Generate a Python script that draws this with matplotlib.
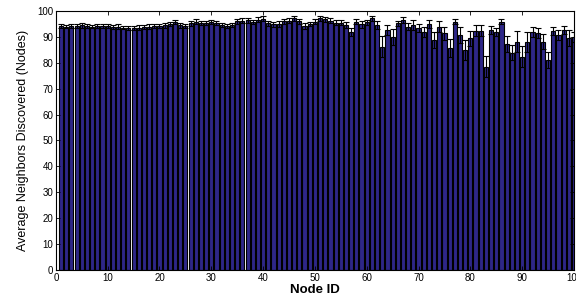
import numpy as np
import matplotlib
matplotlib.use('Agg')
import matplotlib.pyplot as plt

# average neighbours discovered per node
node_ids = np.arange(1, 101)
avg_neighbors = [
    94.2, 94.0, 94.3, 94.1, 94.4, 94.2, 94.0, 94.3, 94.1, 94.2,
    93.9, 94.0, 93.6, 93.5, 93.4, 93.6, 93.8, 94.0, 94.2, 94.3,
    94.4, 95.0, 95.6, 94.5, 94.3, 95.2, 95.8, 95.5, 95.3, 95.7,
    95.4, 94.5, 94.2, 94.6, 96.0, 96.2, 96.4, 95.8, 96.6, 97.0,
    95.2, 94.8, 95.0, 96.0, 96.3, 97.2, 96.0, 94.2, 95.0, 95.8,
    97.2, 96.8, 96.3, 95.5, 95.5, 94.6, 92.0, 95.8, 94.8, 95.6,
    97.2, 94.6, 86.2, 92.7, 90.0, 95.2, 96.5, 94.0, 94.6, 93.3,
    92.0, 95.0, 88.8, 94.0, 91.4, 85.6, 95.9, 90.7, 84.9, 89.4,
    92.4, 92.4, 78.5, 92.7, 92.0, 95.9, 87.3, 83.9, 88.2, 82.4,
    88.0, 92.0, 91.4, 88.2, 81.0, 92.4, 90.7, 92.7, 89.5, 90.0,
]
errors = [
    0.8, 0.7, 0.8, 0.7, 0.9, 0.8, 0.7, 0.8, 0.7, 0.8,
    0.7, 0.8, 0.7, 0.8, 0.7, 0.8, 0.7, 0.8, 0.9, 0.8,
    0.8, 0.9, 0.8, 0.9, 0.8, 0.9, 1.0, 0.8, 0.9, 0.8,
    0.9, 0.8, 0.9, 0.8, 0.9, 1.0, 0.9, 0.8, 0.9, 0.9,
    0.9, 0.8, 1.0, 0.9, 0.9, 1.0, 0.9, 1.0, 0.9, 1.0,
    0.9, 1.0, 1.0, 1.0, 1.0, 1.2, 1.5, 1.0, 1.2, 1.0,
    1.0, 1.5, 4.0, 2.0, 3.0, 1.0, 1.0, 1.5, 2.0, 1.5,
    2.0, 1.5, 3.0, 2.0, 2.5, 3.5, 1.0, 3.0, 4.0, 3.0,
    2.0, 2.0, 4.0, 1.5, 1.5, 1.0, 3.0, 3.0, 4.0, 4.0,
    4.0, 2.0, 2.0, 3.0, 3.0, 1.5, 2.0, 1.5, 3.0, 2.0,
]

fig = plt.figure(figsize=(5.76, 2.97), dpi=100)
ax = fig.add_axes([0.097, 0.091, 0.8995, 0.872])

ax.bar(node_ids, avg_neighbors, width=0.8, color='#2e2788', edgecolor='black',
       linewidth=0.8, yerr=errors,
       error_kw=dict(ecolor='black', elinewidth=0.8, capsize=2.5, capthick=0.8))

ax.set_xlim(0, 100)
ax.set_ylim(0, 100)
ax.set_xticks(np.arange(0, 101, 10))
ax.set_yticks(np.arange(0, 101, 10))
ax.tick_params(direction='in', length=3, width=0.6, top=True, right=True,
               labelsize=7, pad=2)
for lab in ax.get_xticklabels() + ax.get_yticklabels():
    lab.set_family(['Liberation Sans', 'DejaVu Sans'])
for s in ax.spines.values():
    s.set_linewidth(0.8)

ax.set_xlabel('Node ID', fontsize=9.5, fontweight='bold',
              family=['Liberation Sans', 'DejaVu Sans'], labelpad=1)
ax.set_ylabel('Average Neighbors Discovered (Nodes)', fontsize=9,
              family=['Liberation Sans Narrow', 'Liberation Sans', 'DejaVu Sans'],
              labelpad=6)

fig.savefig('out.png', dpi=100)
